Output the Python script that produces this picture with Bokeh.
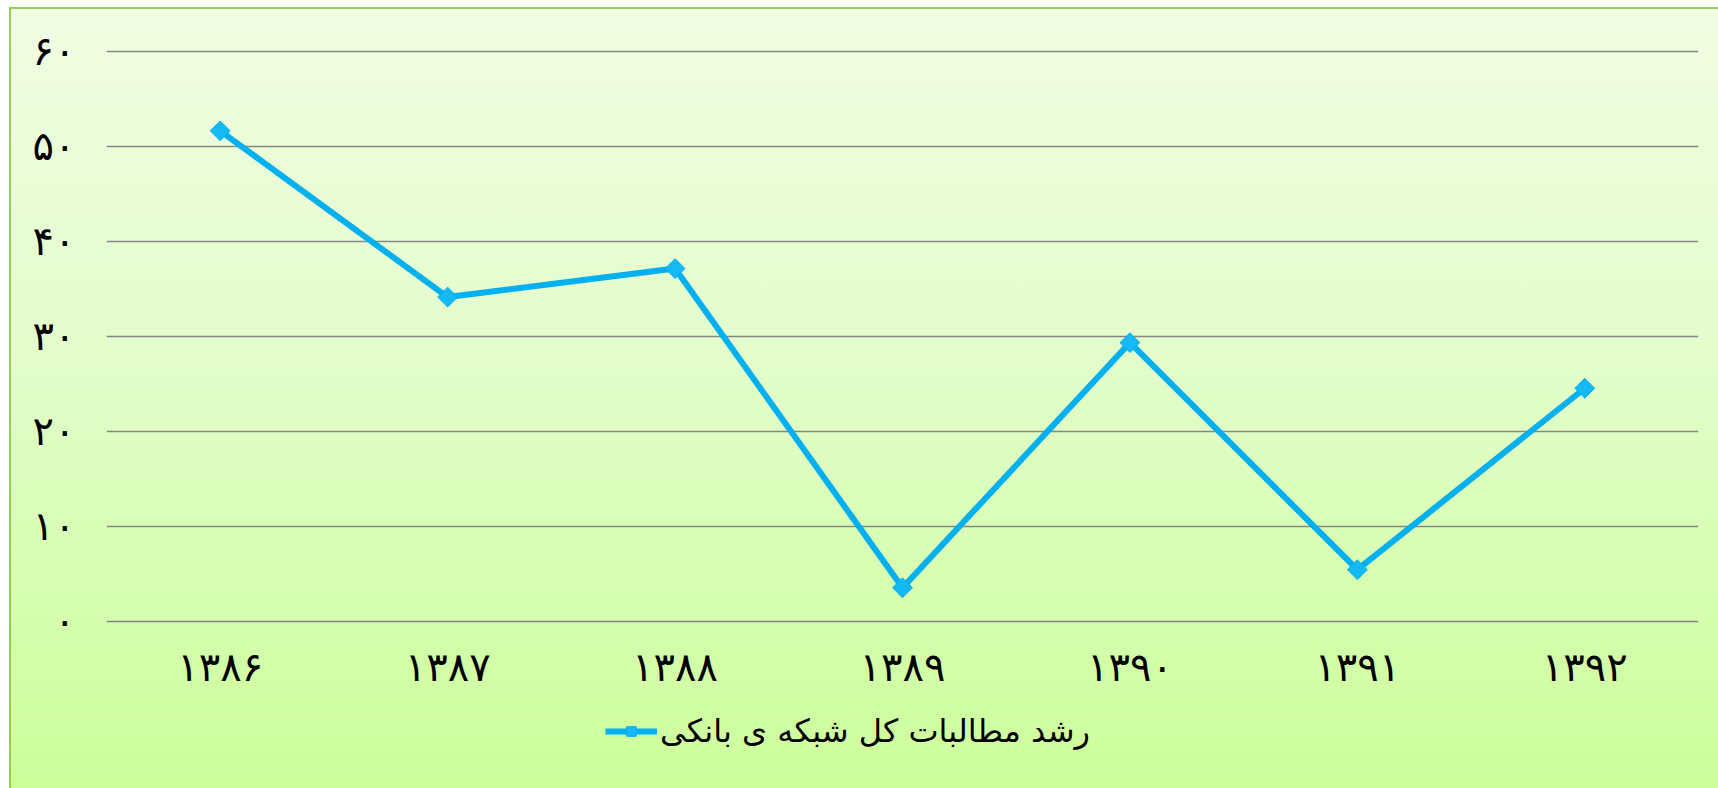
import math
from bokeh.plotting import figure
from bokeh.models import FactorRange, Range1d, FixedTicker, Legend, LegendItem, ColumnDataSource
from bokeh.embed import file_html
from bokeh.resources import INLINE

# ---- data ----
categories = ["۱۳۸۶", "۱۳۸۷", "۱۳۸۸", "۱۳۸۹", "۱۳۹۰", "۱۳۹۱", "۱۳۹۲"]
values = [51.6, 34.1, 37.1, 3.5, 29.3, 5.4, 24.5]
series_name = "رشد مطالبات کل شبکه ی بانکی"
y_tick_values = [0, 10, 20, 30, 40, 50, 60]
y_tick_labels = ["۰", "۱۰", "۲۰", "۳۰", "۴۰", "۵۰", "۶۰"]

FONT = "DejaVu Sans"
BLUE = "#00B0F0"

# the frame reaches down to the canvas bottom so that the legend can sit inside it
p = figure(
    width=1718, height=788,
    x_range=FactorRange(factors=categories, range_padding=0),
    y_range=Range1d(-17.63, 60.16),
    output_backend="svg", toolbar_location=None,
    min_border_left=106, min_border_right=20,
    min_border_top=49, min_border_bottom=0,
)
p.styles = {
    "background-color": "#ffffff",
    "background-image": (
        "linear-gradient(#92D050, #92D050), "
        "linear-gradient(#92D050, #92D050), "
        "linear-gradient(to bottom, #f0fde3 0%, #e2fdca 45%, #ccff99 100%)"
    ),
    "background-position": "9px 7px, 9px 7px, 9px 7px",
    "background-size": "2px 100%, 100% 2px, 100% 100%",
    "background-repeat": "no-repeat",
}
p.border_fill_alpha = 0
p.background_fill_alpha = 0
p.outline_line_color = None

src = ColumnDataSource(dict(x=categories, y=values))
ln = p.line("x", "y", source=src, line_color=BLUE, line_width=6, line_join="miter")
mk = p.scatter("x", "y", source=src, marker="square", size=14, angle=math.pi / 4,
               fill_color="#14b9f6", line_color=BLUE, line_width=1)

# axes
p.yaxis.ticker = FixedTicker(ticks=y_tick_values)
p.yaxis.major_label_overrides = {v: l for v, l in zip(y_tick_values, y_tick_labels)}
p.yaxis.axis_line_color = None
p.yaxis.major_tick_line_color = None
p.yaxis.minor_tick_line_color = None
p.yaxis.major_tick_out = 0
p.yaxis.major_label_standoff = 31
p.yaxis.major_label_text_font = FONT
p.yaxis.major_label_text_font_size = "40px"
p.yaxis.major_label_text_color = "#000000"

p.xaxis.fixed_location = 0
p.xaxis.axis_line_color = None
p.xaxis.major_tick_line_color = None
p.xaxis.minor_tick_line_color = None
p.xaxis.major_tick_out = 0
p.xaxis.major_label_standoff = 23
p.xaxis.major_label_text_font = FONT
p.xaxis.major_label_text_font_size = "40px"
p.xaxis.major_label_text_color = "#000000"

p.xgrid.grid_line_color = None
p.ygrid.grid_line_color = "#868686"
p.ygrid.grid_line_width = 1.3

legend = Legend(items=[LegendItem(label=series_name, renderers=[ln, mk])],
                location=(499, 38))
legend.label_text_font = FONT
legend.label_text_font_size = "32px"
legend.label_text_color = "#000000"
legend.glyph_width = 52
legend.glyph_height = 24
legend.label_standoff = 3
legend.padding = 0
legend.margin = 0
legend.spacing = 0
legend.border_line_color = None
legend.background_fill_alpha = 0
p.add_layout(legend, "center")

open("out.html", "w").write(file_html(p, INLINE))
